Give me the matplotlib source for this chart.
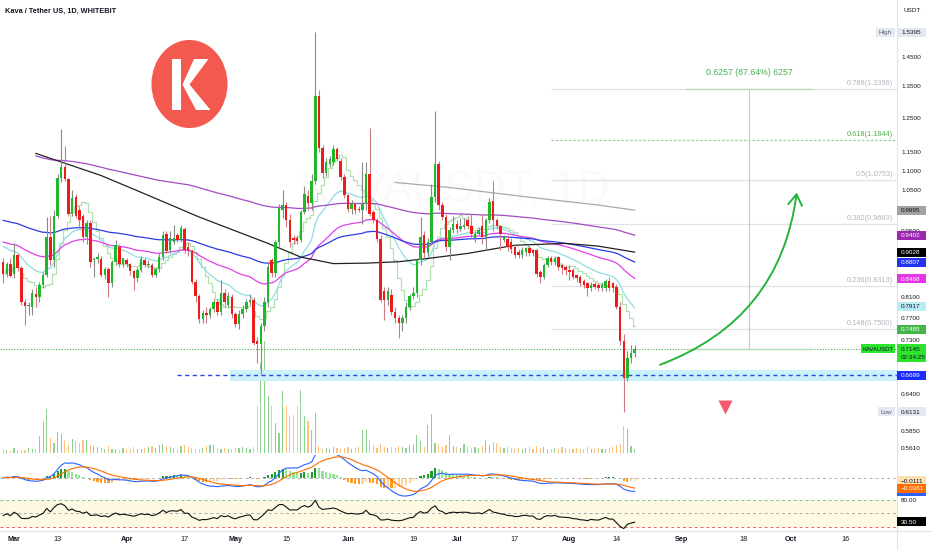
import numpy as np
import pandas as pd
import matplotlib
matplotlib.use("Agg")
import matplotlib.pyplot as plt
import matplotlib.dates as mdates
from matplotlib.patches import Rectangle, Ellipse, Polygon, FancyArrowPatch

plt.rcParams['font.family'] = ['Liberation Sans', 'DejaVu Sans']

# ---------------- data ----------------
start_date = "2023-02-26"   # first daily candle; last one is 2023-08-19

opens = [
    .882, .857, .878, .857, .896, .868, .799, .792, .790, .816,
    .809, .833, .854, .936, .885, .985, 1.080, 1.110, 1.078, .990,
    1.033, 1.000, .985, .936, .969, .885, .887, .887, .854, .866,
    .837, .882, .914, .878, .886, .877, .862, .847, .865, .885,
    .874, .876, .855, .866, .893, .944, .907, .925, .940, .930,
    .955, .915, .905, .840, .812, .768, .779, .775, .786, .800,
    .780, .818, .795, .810, .777, .758, .777, .787, .800, .804,
    .727, .722, .754, .800, .885, .858, .925, 1.000, 1.012, .975,
    .935, .935, .930, .995, 1.035, 1.016, 1.074, 1.317, 1.163, 1.095,
    1.118, 1.122, 1.159, 1.127, 1.082, 1.036, 1.003, 1.015, 1.003, 1.000,
    1.015, 1.091, .995, .975, .933, .821, .804, .814, .780, .769,
    .760, .769, .791, .811, .817, .885, .940, .900, .925, 1.031,
    1.118, 1.011, .983, .914, .952, .967, .956, .960, .975, .963,
    .935, .944, .963, .936, .975, 1.023, .975, .963, .929, .933,
    .925, .914, .903, .896, .903, .911, .907, .907, .861, .850,
    .875, .889, .882, .893, .875, .871, .864, .864, .854, .850,
    .841, .837, .827, .835, .834, .827, .827, .841, .837, .830,
    .791, .727, .666, .698, .707]

highs = [
    .890, .882, .890, .922, .900, .872, .805, .800, .825, .830,
    .840, .860, .983, .985, 1.000, 1.090, 1.216, 1.168, 1.080, 1.050,
    1.040, 1.010, .990, .975, .975, .893, .900, .895, .870, .870,
    .885, .930, .920, .890, .890, .880, .865, .870, .895, .890,
    .885, .880, .870, .900, .950, .950, .950, .965, .945, .965,
    .960, .925, .910, .845, .815, .785, .790, .790, .805, .805,
    .844, .825, .820, .815, .780, .785, .795, .805, .815, .810,
    .735, .760, .810, .880, .890, .930, 1.015, 1.050, 1.020, .990,
    .940, .940, 1.000, 1.060, 1.050, 1.090, 1.5395, 1.339, 1.170, 1.135,
    1.140, 1.170, 1.165, 1.135, 1.090, 1.040, 1.025, 1.020, 1.010, 1.122,
    1.122, 1.221, 1.000, .980, .940, .830, .830, .825, .790, .775,
    .775, .800, .815, .830, .890, .983, .950, .935, 1.065, 1.271,
    1.125, 1.020, .990, .960, .985, .975, .980, .980, .985, .990,
    .950, .960, .990, .980, 1.030, 1.074, .980, .965, .940, .940,
    .935, .920, .910, .915, .915, .920, .910, .910, .865, .880,
    .895, .895, .895, .895, .880, .875, .875, .868, .857, .855,
    .845, .840, .840, .840, .837, .840, .845, .850, .840, .835,
    .800, .740, .710, .720, .720]

lows = [
    .837, .850, .850, .848, .862, .795, .757, .776, .775, .790,
    .800, .828, .850, .875, .870, .980, 1.070, 1.072, .985, .985,
    .980, .960, .925, .920, .870, .850, .880, .850, .845, .810,
    .830, .875, .870, .870, .870, .855, .824, .840, .860, .870,
    .868, .850, .850, .860, .885, .900, .900, .920, .925, .925,
    .900, .895, .835, .800, .760, .760, .760, .770, .780, .775,
    .775, .790, .790, .770, .752, .750, .770, .780, .795, .720,
    .690, .670, .745, .790, .850, .850, .915, .980, .960, .915,
    .920, .920, .925, .990, 1.000, 1.000, 1.065, 1.150, 1.080, 1.085,
    1.110, 1.115, 1.125, 1.075, 1.030, .995, .990, .990, .995, .967,
    1.000, .985, .970, .925, .800, .766, .795, .775, .760, .733,
    .745, .760, .785, .805, .810, .875, .890, .895, .920, 1.020,
    1.000, .975, .905, .885, .945, .945, .950, .955, .955, .935,
    .925, .940, .920, .907, .970, .950, .955, .907, .925, .905,
    .900, .890, .890, .890, .895, .895, .895, .850, .837, .845,
    .870, .875, .875, .865, .857, .855, .844, .845, .840, .832,
    .828, .811, .822, .825, .822, .822, .822, .822, .820, .787,
    .720, .6131, .660, .690, .700]

closes = [
    .857, .878, .852, .896, .868, .799, .792, .795, .818, .809,
    .833, .854, .936, .885, .985, 1.080, 1.110, 1.078, .990, 1.030,
    .985, .975, .936, .969, .882, .887, .893, .854, .866, .837,
    .882, .918, .878, .889, .877, .862, .847, .865, .887, .874,
    .878, .855, .866, .893, .940, .905, .935, .935, .930, .958,
    .907, .905, .840, .812, .768, .779, .775, .786, .800, .780,
    .818, .800, .812, .777, .758, .777, .787, .800, .804, .724,
    .722, .754, .800, .870, .858, .925, 1.005, 1.012, .975, .925,
    .930, .928, .995, 1.040, 1.016, 1.074, 1.317, 1.163, 1.095, 1.122,
    1.131, 1.159, 1.131, 1.082, 1.036, 1.003, 1.015, .999, .999, 1.015,
    1.091, .991, .975, .933, .804, .804, .821, .780, .769, .760,
    .769, .791, .811, .817, .885, .936, .900, .925, 1.031, 1.118,
    1.011, .983, .914, .952, .967, .956, .963, .965, .963, .944,
    .944, .952, .936, .975, 1.020, .975, .963, .944, .936, .914,
    .910, .896, .896, .907, .911, .900, .900, .857, .850, .875,
    .889, .882, .889, .871, .868, .864, .861, .850, .847, .837,
    .834, .827, .834, .829, .827, .834, .841, .827, .827, .791,
    .727, .666, .698, .707, .7145]

volumes = [  # thousands of KAVA
    40, 30, 20, 50, 30, 25, 30, 45, 40, 35,
    170, 310, 440, 150, 100, 210, 190, 130, 80, 140,
    120, 100, 130, 130, 80, 70, 60, 50, 40, 70,
    40, 40, 30, 50, 40, 40, 60, 40, 35, 45,
    60, 70, 50, 80, 90, 70, 60, 50, 40, 70,
    80, 60, 50, 40, 40, 50, 70, 80, 80, 50,
    40, 50, 40, 40, 50, 50, 60, 50, 40, 60,
    470, 900, 1120, 570, 470, 300, 200, 620, 470, 370,
    380, 470, 630, 370, 320, 230, 400, 70, 40, 50,
    40, 60, 50, 40, 50, 60, 40, 50, 60, 230,
    230, 130, 80, 50, 90, 60, 50, 60, 50, 70,
    60, 50, 80, 90, 180, 120, 60, 280, 390, 100,
    90, 60, 80, 180, 70, 60, 50, 90, 60, 50,
    60, 50, 70, 130, 80, 110, 100, 60, 50, 60,
    50, 40, 50, 40, 50, 60, 40, 70, 50, 60,
    40, 40, 50, 40, 60, 50, 40, 40, 50, 40,
    40, 60, 40, 40, 50, 40, 40, 50, 60, 80,
    90, 270, 240, 70, 40]

# long moving averages (their history starts before the view)
black_ma_dates = ["2023-03-07", "2023-03-25", "2023-04-07", "2023-04-21", "2023-05-10",
                  "2023-05-19", "2023-05-28", "2023-06-06", "2023-06-15", "2023-06-24",
                  "2023-07-04", "2023-07-17", "2023-07-31", "2023-08-09", "2023-08-19"]
black_ma_vals = [1.147, 1.087, 1.036, .983, .922, .892, .878, .879, .882, .890,
                 .900, .918, .922, .916, .9028]
gray_ma_dates = ["2023-06-14", "2023-06-29", "2023-07-13", "2023-07-29", "2023-08-09", "2023-08-19"]
gray_ma_vals = [1.069, 1.056, 1.040, 1.023, 1.012, .9995]

# starting values of the shorter averages at the left edge
ema20_seed, ema50_seed, ema100_seed = 0.915, 0.925, 0.975
ema200_seed, ema200_start = 1.14, "2023-03-07"
rsi_seed_gain, rsi_seed_loss = 0.009, 0.011

fib_ratios = ["0.786", "0.618", "0.5", "0.382", "0.236", "0.148"]
fib_prices = [1.3396, 1.1844, 1.0753, 0.9663, 0.8313, 0.7500]

last_price = 0.7145
support_price = 0.6699
band_low, band_high = 0.6605, 0.6783
high_price, low_price = 1.5395, 0.6131
measure_text = "0.6257 (87.64%) 6257"

price_ticks = [1.45, 1.35, 1.25, 1.15, 1.10, 1.05, 0.95, 0.90, 0.85, 0.81, 0.77, 0.73, 0.64, 0.585, 0.561]
ma_label_values = [0.9995, 0.9402, 0.9028, 0.8807, 0.8468, 0.7917, 0.7485]
macd_label_values = [-0.0472, -0.0111, -0.0361]
rsi_label_value = 30.50
rsi_levels = [80, 50, 20]

tick_dates = ["2023-03-01", "2023-03-13", "2023-04-01", "2023-04-17", "2023-05-01", "2023-05-15",
              "2023-06-01", "2023-06-19", "2023-07-01", "2023-07-17", "2023-08-01", "2023-08-14",
              "2023-09-01", "2023-09-18", "2023-10-01", "2023-10-16"]
tick_labels = ["Mar", "13", "Apr", "17", "May", "15", "Jun", "19", "Jul", "17", "Aug", "14",
               "Sep", "18", "Oct", "16"]

# annotation anchors (date, price)
support_from = "2023-04-15"
band_from = "2023-04-29 12:00"
fib_from = "2023-07-27"
measure_from, measure_to, measure_mid = "2023-09-02", "2023-10-07", "2023-09-19 12:00"
measure_label_price = 1.397
arrow_from, arrow_to = ("2023-08-26", 0.687), ("2023-10-02 16:00", 1.043)
triangle_at = ("2023-09-12 22:00", 0.620)
view_from, view_to = "2023-02-25 03:00", "2023-10-30 07:00"

# ---------------- figure ----------------
W, H = 932, 550
PX = 897
fig = plt.figure(figsize=(W / 100, H / 100), dpi=100, facecolor='white')


def box(top, bottom):
    return [0, 1 - bottom / H, PX / W, (bottom - top) / H]


axv = fig.add_axes(box(0, 455)); axv.set_zorder(1)
ax = fig.add_axes(box(0, 455), sharex=axv); ax.set_zorder(2)
axm = fig.add_axes(box(455, 497), sharex=axv); axm.set_zorder(2)
axr = fig.add_axes(box(497, 531), sharex=axv); axr.set_zorder(2)
ov = fig.add_axes([0, 0, 1, 1]); ov.set_zorder(6)
ov.set_xlim(0, W); ov.set_ylim(H, 0); ov.axis('off'); ov.patch.set_alpha(0)

for a in (axv, ax, axm, axr):
    for s in a.spines.values():
        s.set_visible(False)
    a.tick_params(which='both', left=False, labelleft=False, right=False, labelright=False,
                  bottom=False, labelbottom=False)
    a.patch.set_alpha(0)


def dn(s):
    return mdates.date2num(pd.Timestamp(s).to_pydatetime())


o = np.array(opens); hi = np.array(highs); lo = np.array(lows); c = np.array(closes)
vol = np.array(volumes)
dates = pd.date_range(start_date, periods=len(c), freq="D")
xd = mdates.date2num(dates.to_pydatetime())

ax.set_xlim(dn(view_from), dn(view_to))
ax.set_yscale('log')
ax.set_ylim(0.552, 1.6638)
axv.set_ylim(-23, 4527)
axm.set_ylim(-0.0661, 0.0777)
axr.set_ylim(10.1, 86.8)

UP, DN = '#1fb82a', '#ee1b1b'
up = c >= o

# volume
axv.bar(xd, vol, width=0.32, color=np.where(up, '#8fd18f', '#ffc27a'), linewidth=0)

# faint watermark
axv.text(455, 190, "KAVAUSDT, 1D", transform=ov.transData, fontsize=32, color='#131722',
         alpha=0.018, ha='center', va='center')

# support band + dashed support
ax.add_patch(Rectangle((dn(band_from), band_low), dn(view_to) - dn(band_from), band_high - band_low,
                       fc='#c9f1f7', ec='none', zorder=1))
ax.hlines(support_price, dn(support_from), dn(view_to), colors='#2748e8', lw=1.0,
          linestyles=(0, (3, 2.5)), zorder=2)
# current price line
ax.axhline(last_price, color='#4caf50', lw=0.8, ls=(0, (1, 1.5)), zorder=2)

# fib levels
for r, p in zip(fib_ratios, fib_prices):
    if r == "0.618":
        ax.hlines(p, dn(fib_from), dn(view_to), colors='#9ccf9e', lw=0.9, linestyles=(0, (2, 1.5)), zorder=2)
    else:
        ax.hlines(p, dn(fib_from), dn(view_to), colors='#dfe2e7', lw=0.9, zorder=2)


# moving averages
def ema(vals, n, seed, start=0):
    a = 2.0 / (n + 1)
    out = np.full(len(vals), np.nan)
    out[start] = seed
    for i in range(start + 1, len(vals)):
        out[i] = a * vals[i] + (1 - a) * out[i - 1]
    return out


i200 = int(np.argmin(np.abs(xd - dn(ema200_start))))
e20 = ema(c, 20, ema20_seed)
e50 = ema(c, 50, ema50_seed)
e100 = ema(c, 100, ema100_seed)
e200 = ema(c, 200, ema200_seed, i200)
sma9 = pd.Series(c).rolling(9, min_periods=1).mean().values

ax.plot(xd, sma9, drawstyle='steps-mid', color='#b3e0b0', lw=0.9, zorder=5)
ax.plot(xd, e20, color='#8fdde3', lw=0.9, zorder=5)
ax.plot(xd, e50, color='#e040e8', lw=0.9, zorder=5)
ax.plot(xd, e100, color='#2b3be6', lw=0.9, zorder=5)
ax.plot(xd, e200, color='#a24bc4', lw=0.9, zorder=5)
ax.plot([dn(d) for d in black_ma_dates], black_ma_vals, color='#222222', lw=0.9, zorder=5)
ax.plot([dn(d) for d in gray_ma_dates], gray_ma_vals, color='#a9a9a9', lw=0.9, zorder=5)

# candles
ax.vlines(xd, lo, hi, colors=np.where(up, '#8a8a8a', '#d07a84'), lw=0.8, zorder=6)
ax.bar(xd, np.maximum(np.abs(c - o), 0.0025), bottom=np.minimum(o, c), width=0.68,
       color=np.where(up, UP, DN), linewidth=0, zorder=7)

# measure tool
ax.hlines([fib_prices[0], last_price], dn(measure_from), dn(measure_to), colors='#b5e0b5', lw=1.0, zorder=3)
ax.vlines(dn(measure_mid), last_price, fib_prices[0], colors='#c3cdc3', lw=0.8, zorder=3)
ax.text(dn(measure_mid), measure_label_price, measure_text, ha='center', va='center',
        fontsize=6.3, color='#4caf50', zorder=8)

# curved arrow + triangle
arr = FancyArrowPatch((dn(arrow_from[0]), arrow_from[1]), (dn(arrow_to[0]), arrow_to[1]),
                      connectionstyle='arc3,rad=0.3', arrowstyle='->,head_length=0.7,head_width=0.45',
                      mutation_scale=11, color='#25b43a', lw=1.4, shrinkA=0, shrinkB=0, zorder=8)
ax.add_patch(arr)
ax.plot(dn(triangle_at[0]), triangle_at[1], marker='v', ms=10, color='#f25a6e', mec='none', zorder=8)

# MACD
e12 = ema(c, 12, c[0]); e26 = ema(c, 26, c[0])
macd = e12 - e26
sig = ema(macd, 9, macd[0])
hist = macd - sig
prev = np.r_[hist[0], hist[:-1]]
hcol = np.where(hist >= 0, np.where(hist >= prev, '#1f9e2c', '#93e693'),
                np.where(hist < prev, '#ff9b24', '#ffd6a0'))
axm.bar(xd, hist, width=0.6, color=hcol, linewidth=0)
axm.axhline(0, color='#b0b0b0', lw=0.7, ls=(0, (3, 3)))
axm.plot(xd, macd, color='#2962ff', lw=0.8)
axm.plot(xd, sig, color='#ff6d00', lw=0.8)


# RSI
def rsi(vals, n, g0, l0):
    out = np.empty(len(vals)); ag, al = g0, l0
    out[0] = 100 - 100 / (1 + ag / al)
    for i in range(1, len(vals)):
        ch = vals[i] - vals[i - 1]
        ag = (ag * (n - 1) + max(ch, 0)) / n
        al = (al * (n - 1) + max(-ch, 0)) / n
        out[i] = 100 - 100 / (1 + ag / al)
    return out


r14 = rsi(c, 14, rsi_seed_gain, rsi_seed_loss)
axr.axhspan(rsi_levels[2], rsi_levels[0], color='#fdf9e3', lw=0)
axr.axhline(rsi_levels[0], color='#7cc47f', lw=0.7, ls=(0, (3, 3)))
axr.axhline(rsi_levels[1], color='#a8a8a8', lw=0.7, ls=(0, (3, 3)))
axr.axhline(rsi_levels[2], color='#f06060', lw=0.7, ls=(0, (3, 3)))
axr.plot(xd, r14, color='#111111', lw=0.8)

# x axis labels
axr.set_xticks([dn(d) for d in tick_dates])
axr.set_xticklabels(tick_labels)
axr.tick_params(axis='x', labelbottom=True, length=0, pad=3.5, labelsize=5.2, labelcolor='#131722')
for t, lab in zip(axr.get_xticklabels(), tick_labels):
    if not lab.isdigit():
        t.set_fontweight('bold')


# ---------------- overlay: frame, price scale labels, logo ----------------
def ypx(a, v):
    return H - a.transData.transform((xd[0], v))[1]


ov.plot([PX, PX], [0, H], color='#e0e3eb', lw=0.8)
ov.plot([0, W], [531, 531], color='#e0e3eb', lw=0.8)

FS = 4.6
ov.text(5, 11, "Kava / Tether US, 1D, WHITEBIT", fontsize=5.3, fontweight='bold', color='#131722',
        va='center', ha='left')
ov.text(904, 10, "USDT", fontsize=FS, color='#131722', va='center', ha='left')

for v in price_ticks:
    ov.text(901, ypx(ax, v) + 0.5, f"{v:.4f}", fontsize=FS, color='#131722', va='center', ha='left')


def tag(yc, text, bg, fg, x0=PX, x1=926, h=9.0, center=False, fs=FS):
    ov.add_patch(Rectangle((x0, yc - h / 2), x1 - x0, h, fc=bg, ec='none', zorder=10))
    if center:
        ov.text((x0 + x1) / 2, yc + 0.5, text, fontsize=fs, color=fg, va='center', ha='center', zorder=11)
    else:
        ov.text(x0 + 4, yc + 0.5, text, fontsize=fs, color=fg, va='center', ha='left', zorder=11)


ma_tag_colors = [('#a3a3a3', '#111111'), ('#9c27b0', 'white'), ('#000000', 'white'), ('#2435f0', 'white'),
                 ('#e535e5', 'white'), ('#b8ecf2', '#131722'), ('#43b649', 'white')]
for v, (bg, fg) in zip(ma_label_values, ma_tag_colors):
    tag(ypx(ax, v), f"{v:.4f}", bg, fg)

# high / low
yh = ypx(ax, high_price)
tag(yh, f"{high_price:.4f}", '#e4e8f2', '#131722')
tag(yh, "High", '#e4e8f2', '#5d606b', x0=876, x1=895, center=True)
yl = ypx(ax, low_price)
tag(yl, f"{low_price:.4f}", '#e4e8f2', '#131722')
tag(yl, "Low", '#e4e8f2', '#5d606b', x0=878, x1=895, center=True)

# last price
yp = ypx(ax, last_price)
ov.add_patch(Rectangle((PX, yp - 4.5), 926 - PX, 18, fc='#2ee32e', ec='none', zorder=10))
ov.text(PX + 4, yp + 0.5, f"{last_price:.4f}", fontsize=FS, color='#131722', va='center', zorder=11)
ov.text(PX + 4, yp + 8.8, "02:34:25", fontsize=FS, color='#131722', va='center', zorder=11)
tag(yp, "KAVAUSDT", '#2ee32e', '#131722', x0=861, x1=895, center=True, fs=4.2)

tag(ypx(ax, support_price), f"{support_price:.4f}", '#1a2cff', 'white')

# fib labels
for r, p in zip(fib_ratios, fib_prices):
    col = '#4caf50' if r == "0.618" else '#b2b5be'
    ov.text(893, ypx(ax, p) - 5.5, f"{r}({p:.4f})", fontsize=5.3, color=col, ha='right', va='center')

# MACD / RSI tags
tag(ypx(axm, macd_label_values[0]), "", '#2962ff', 'white')
tag(ypx(axm, macd_label_values[1]), f"{macd_label_values[1]:.4f}".replace('-', '\u2212'), '#ffe0b2', '#131722')
tag(ypx(axm, macd_label_values[2]), f"{macd_label_values[2]:.4f}".replace('-', '\u2212'), '#ff6d00', 'white')
ov.text(901, ypx(axr, rsi_levels[0]) + 0.5, f"{rsi_levels[0]:.2f}", fontsize=FS, color='#131722', va='center')
tag(ypx(axr, rsi_label_value), f"{rsi_label_value:.2f}", '#000000', 'white')

# Kava logo
ov.add_patch(Ellipse((189.5, 84), 76, 88, fc='#f4594f', ec='none', zorder=9))
ov.add_patch(Rectangle((171.7, 59), 9.3, 51, fc='white', ec='none', zorder=10))
ov.add_patch(Polygon([(194, 59), (208.5, 59), (189.5, 84.5), (210.5, 110), (196, 110), (182.5, 84.5)],
                     closed=True, fc='white', ec='none', zorder=10))

fig.savefig("out.png", dpi=100, facecolor='white')
